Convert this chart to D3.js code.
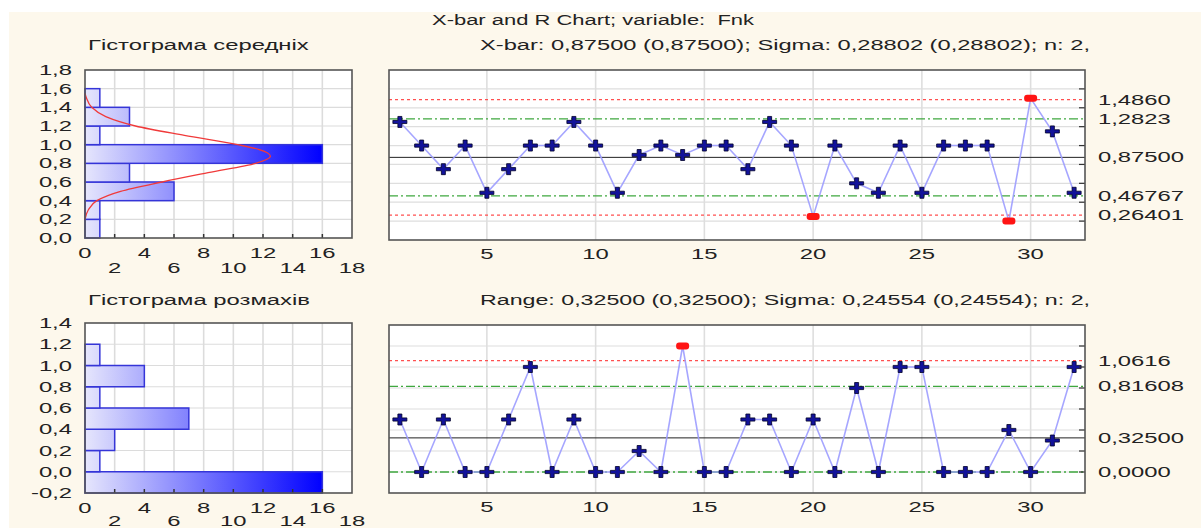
<!DOCTYPE html>
<html>
<head>
<meta charset="utf-8">
<script src="https://cdn.jsdelivr.net/npm/d3@7"></script>
<style>
  body { margin: 0; background: #fff; }
  svg text { font-family: "Liberation Sans", Arial, sans-serif; fill: #222; white-space: pre; }
</style>
</head>
<body>
<div id="container"></div>
<script>
/* DATA */
const xbarValues = [1.25, 1.0, 0.75, 1.0, 0.5, 0.75, 1.0, 1.0, 1.25, 1.0, 0.5, 0.9, 1.0, 0.9, 1.0, 1.0,
                    0.75, 1.25, 1.0, 0.25, 1.0, 0.6, 0.5, 1.0, 0.5, 1.0, 1.0, 1.0, 0.2, 1.5, 1.15, 0.5];
const rangeValues = [0.5, 0, 0.5, 0, 0, 0.5, 1.0, 0, 0.5, 0, 0, 0.2, 0, 1.2, 0, 0,
                     0.5, 0.5, 0, 0.5, 0, 0.8, 0, 1.0, 1.0, 0, 0, 0, 0.4, 0, 0.3, 1.0];

// control lines: [value, kind]
const xbarLimits = [[1.4860, "ucl"], [1.2823, "warn"], [0.87500, "center"], [0.46767, "warn"], [0.26401, "lcl"]];
const xbarLimitLabels = ["1,4860", "1,2823", "0,87500", "0,46767", "0,26401"];
const rangeLimits = [[1.0616, "ucl"], [0.81608, "warn"], [0.32500, "center"], [0.0, "warn"]];
const rangeLimitLabels = ["1,0616", "0,81608", "0,32500", "0,0000"];

// histograms (bin start, count)
const xbarBinStarts = [0.0, 0.2, 0.4, 0.6, 0.8, 1.0, 1.2, 1.4];
const xbarCounts = [1, 1, 6, 3, 16, 1, 3, 1];
const rangeBinStarts = [-0.2, 0.0, 0.2, 0.4, 0.6, 0.8, 1.0];
const rangeCounts = [16, 1, 2, 7, 1, 4, 1];

// fitted normal curve (value, count)
const curveValues = [0.20, 0.30, 0.40, 0.50, 0.60, 0.70, 0.80, 0.875, 0.95, 1.00, 1.10, 1.20, 1.30, 1.40, 1.50, 1.55];
const curveCounts = [0.0, 0.22, 0.8, 2.4, 5.2, 8.3, 11.5, 12.5, 11.7, 10.3, 6.7, 3.4, 1.4, 0.45, 0.1, 0.0];

const histXTicks = [0, 2, 4, 6, 8, 10, 12, 14, 16, 18];
const sampleTicks = [5, 10, 15, 20, 25, 30];

const titleText = "X-bar and R Chart; variable:  Fnk";
const xbarSub = "X-bar: 0,87500 (0,87500); Sigma: 0,28802 (0,28802); n: 2,";
const rangeSub = "Range: 0,32500 (0,32500); Sigma: 0,24554 (0,24554); n: 2,";
const histTitleTop = "Гістограма середніх";
const histTitleBot = "Гістограма розмахів";

/* CONSTANTS */
const width = 1201, height = 528;
const SX = 1.7; // the picture is stretched sideways
const fmt1 = d3.formatLocale({decimal: ",", thousands: " ", grouping: [3], currency: ["", ""], minus: "-"}).format(".1f");

const svg = d3.select("#container").append("svg")
  .attr("width", width).attr("height", height);

svg.append("rect").attr("width", width).attr("height", height).attr("fill", "#fff");
svg.append("rect").attr("x", 9).attr("y", 12).attr("width", width - 9).attr("height", height - 12).attr("fill", "#fdf8ec");

const defs = svg.append("defs");

function stretch(sel, k) {
  sel.each(function() {
    const w = this.getComputedTextLength();
    if (w > 0) d3.select(this).attr("textLength", w * (k || SX)).attr("lengthAdjust", "spacingAndGlyphs");
  });
}

function label(x, y, txt, len) {
  const t = svg.append("text").attr("x", x).attr("y", y)
    .style("font-size", "14px")
    .text(txt);
  if (len) t.attr("textLength", len).attr("lengthAdjust", "spacingAndGlyphs");
  else stretch(t);
  return t;
}

/* HISTOGRAM */
function histogram(cfg) {
  const x = d3.scaleLinear().domain([0, 18]).range([85, 352]);
  const y = d3.scaleLinear().domain(cfg.yDomain).range([cfg.bottom, cfg.top]);
  const g = svg.append("g");

  g.append("rect").attr("x", 85).attr("y", cfg.top).attr("width", 267).attr("height", cfg.bottom - cfg.top)
    .attr("fill", "#fff");

  const yTicks = d3.range(Math.round(cfg.yDomain[0] * 10), Math.round(cfg.yDomain[1] * 10) + 1, 2).map(d => d / 10);
  g.selectAll("line.hg").data(yTicks.slice(1, -1)).join("line")
    .attr("x1", 85).attr("x2", 352).attr("y1", d => y(d)).attr("y2", d => y(d))
    .attr("stroke", "#dcdcdc").attr("stroke-width", 1.2);
  g.selectAll("line.vg").data(histXTicks.slice(1, -1)).join("line")
    .attr("x1", d => x(d)).attr("x2", d => x(d)).attr("y1", cfg.top).attr("y2", cfg.bottom)
    .attr("stroke", "#dcdcdc").attr("stroke-width", 1.6);

  const gradId = cfg.id + "grad";
  const grad = defs.append("linearGradient").attr("id", gradId)
    .attr("gradientUnits", "userSpaceOnUse")
    .attr("x1", x(0)).attr("x2", x(16)).attr("y1", 0).attr("y2", 0);
  grad.append("stop").attr("offset", 0).attr("stop-color", "#e6e6fc");
  grad.append("stop").attr("offset", 1).attr("stop-color", "#0000ff");

  g.selectAll("rect.bar").data(cfg.starts).join("rect")
    .attr("class", "bar")
    .attr("x", x(0))
    .attr("y", d => y(d + 0.2))
    .attr("width", (d, i) => x(cfg.counts[i]) - x(0))
    .attr("height", d => y(d) - y(d + 0.2))
    .attr("fill", `url(#${gradId})`)
    .attr("stroke", "#3535d8").attr("stroke-width", 1.5);

  if (cfg.curve) {
    const line = d3.line().x((d, i) => x(curveCounts[i])).y(d => y(d)).curve(d3.curveMonotoneY);
    g.append("path").datum(curveValues).attr("d", line)
      .attr("fill", "none").attr("stroke", "#f03a3a").attr("stroke-width", 1.3);
  }

  // inner ticks along the bottom
  g.selectAll("line.bt").data(histXTicks.slice(1, -1)).join("line")
    .attr("x1", d => x(d)).attr("x2", d => x(d)).attr("y1", cfg.bottom).attr("y2", cfg.bottom - 4)
    .attr("stroke", "#333").attr("stroke-width", 1.5);

  g.append("rect").attr("x", 85).attr("y", cfg.top).attr("width", 267).attr("height", cfg.bottom - cfg.top)
    .attr("fill", "none").attr("stroke", "#555").attr("stroke-width", 1.6);

  // y labels
  const yl = g.selectAll("text.yl").data(yTicks).join("text")
    .attr("x", 72).attr("y", d => y(d) + 5).attr("text-anchor", "end")
    .style("font-size", "14px").text(d => fmt1(d));
  stretch(yl);
  // x labels in two rows
  const xl = g.selectAll("text.xl").data(histXTicks).join("text")
    .attr("x", d => x(d)).attr("y", (d, i) => cfg.bottom + (i % 2 ? cfg.row2 : 20))
    .attr("text-anchor", "middle").style("font-size", "14px").text(d => d);
  stretch(xl);

  label(88, cfg.titleY, cfg.title);
}

/* CONTROL CHART */
function controlChart(cfg) {
  const x = d3.scaleLinear().domain([0.5, 32.5]).range([389, 1085]);
  const y = d3.scaleLinear().domain(cfg.yDomain).range([cfg.bottom, cfg.top]);
  const g = svg.append("g");

  g.append("rect").attr("x", 389).attr("y", cfg.top).attr("width", 696).attr("height", cfg.bottom - cfg.top)
    .attr("fill", "#fff");

  const yTicks = d3.range(Math.round(cfg.yDomain[0] * 10), Math.round(cfg.yDomain[1] * 10) + 1, 2).map(d => d / 10);
  g.selectAll("line.hg").data(yTicks.slice(1, -1)).join("line")
    .attr("x1", 389).attr("x2", 1085).attr("y1", d => y(d)).attr("y2", d => y(d))
    .attr("stroke", "#dedede").attr("stroke-width", 1.2);
  g.selectAll("line.vg").data(sampleTicks).join("line")
    .attr("x1", d => x(d)).attr("x2", d => x(d)).attr("y1", cfg.top).attr("y2", cfg.bottom)
    .attr("stroke", "#dedede").attr("stroke-width", 1.6);

  // control lines
  const isLimit = k => k === "ucl" || k === "lcl";
  g.selectAll("line.lim").data(cfg.limits).join("line")
    .attr("x1", 389).attr("x2", 1085)
    .attr("y1", d => y(d[0])).attr("y2", d => y(d[0]))
    .attr("stroke", d => isLimit(d[1]) ? "#ff5050" : d[1] === "warn" ? "#3fa83f" : "#222")
    .attr("stroke-width", d => d[1] === "center" ? 1 : 1.3)
    .attr("stroke-dasharray", d => isLimit(d[1]) ? "3,3" : d[1] === "warn" ? "9,3,2,3" : null);

  // series line
  const line = d3.line().x((d, i) => x(i + 1)).y(d => y(d));
  g.append("path").datum(cfg.values).attr("d", line)
    .attr("fill", "none").attr("stroke", "#9c9cff").attr("stroke-width", 1.6).attr("opacity", 0.9);

  const ucl = cfg.limits.find(d => d[1] === "ucl");
  const lcl = cfg.limits.find(d => d[1] === "lcl");
  const out = v => (ucl && v > ucl[0]) || (lcl && v < lcl[0]);

  const pts = cfg.values.map((v, i) => ({i: i + 1, v}));
  g.selectAll("path.cross").data(pts.filter(d => !out(d.v))).join("path")
    .attr("class", "cross")
    .attr("d", d => {
      const cx = x(d.i), cy = y(d.v), w = 7, h = 5.5, tx = 2, ty = 1.6;
      return `M${cx - w},${cy - ty}H${cx - tx}V${cy - h}H${cx + tx}V${cy - ty}H${cx + w}V${cy + ty}` +
             `H${cx + tx}V${cy + h}H${cx - tx}V${cy + ty}H${cx - w}Z`;
    })
    .attr("fill", "#12129a").attr("stroke", "#000028").attr("stroke-width", 0.8);
  g.selectAll("rect.outp").data(pts.filter(d => out(d.v))).join("rect")
    .attr("x", d => x(d.i) - 6.5).attr("y", d => y(d.v) - 3.5)
    .attr("width", 13).attr("height", 7).attr("rx", 3)
    .attr("fill", "#ff1414");

  // inner ticks on the right
  g.selectAll("line.rt").data(yTicks.slice(1, -1)).join("line")
    .attr("x1", 1085).attr("x2", 1079).attr("y1", d => y(d)).attr("y2", d => y(d))
    .attr("stroke", "#333").attr("stroke-width", 1.2);

  g.append("rect").attr("x", 389).attr("y", cfg.top).attr("width", 696).attr("height", cfg.bottom - cfg.top)
    .attr("fill", "none").attr("stroke", "#555").attr("stroke-width", 1.6);

  const xl = g.selectAll("text.xl").data(sampleTicks).join("text")
    .attr("x", d => x(d)).attr("y", cfg.bottom + 19).attr("text-anchor", "middle")
    .style("font-size", "14px").text(d => d);
  stretch(xl);

  const rl = g.selectAll("text.rl").data(cfg.limits).join("text")
    .attr("x", 1098).attr("y", d => y(d[0]) + 5)
    .style("font-size", "14px").text((d, i) => cfg.limitLabels[i]);
  stretch(rl);

  label(480, cfg.titleY, cfg.sub, 610);
}

histogram({id: "ht", yDomain: [0, 1.8], top: 70, bottom: 238, starts: xbarBinStarts, counts: xbarCounts,
           curve: true, title: histTitleTop, titleY: 50, row2: 35});
histogram({id: "hb", yDomain: [-0.2, 1.4], top: 323, bottom: 493, starts: rangeBinStarts, counts: rangeCounts,
           curve: false, title: histTitleBot, titleY: 305, row2: 33});
controlChart({yDomain: [0, 1.8], top: 70, bottom: 240, values: xbarValues, limits: xbarLimits,
              limitLabels: xbarLimitLabels, sub: xbarSub, titleY: 50});
controlChart({yDomain: [-0.2, 1.4], top: 325, bottom: 493, values: rangeValues, limits: rangeLimits,
              limitLabels: rangeLimitLabels, sub: rangeSub, titleY: 305});

label(432, 25, titleText, 322);
</script>
</body>
</html>
